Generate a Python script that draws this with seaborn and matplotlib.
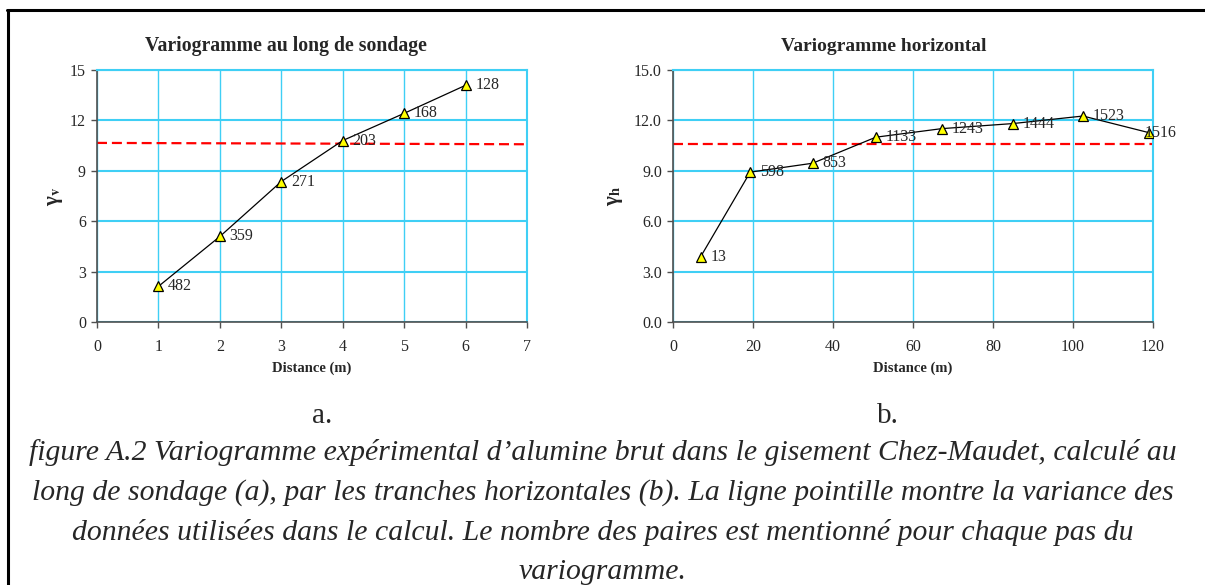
import numpy as np
import pandas as pd
import matplotlib
matplotlib.use("Agg")
import matplotlib.pyplot as plt
from matplotlib.lines import Line2D
import seaborn as sns

# Variogramme au long de sondage (a)
dist_v = [1, 2, 3, 4, 5, 6]
gamma_v = [2.12, 5.09, 8.36, 10.8, 12.42, 14.09]
pairs_v = [482, 359, 271, 203, 168, 128]
variance_v = [10.66, 10.58]   # dashed line, start / end
xlim_v = [0, 7]
yticks_v = [0, 3, 6, 9, 12, 15]

# Variogramme horizontal (b)
dist_h = [6.9, 19.3, 34.9, 50.7, 67.2, 84.9, 102.5, 119.0]
gamma_h = [3.88, 8.92, 9.45, 11.0, 11.51, 11.81, 12.26, 11.27]
pairs_h = [13, 598, 853, 1133, 1243, 1444, 1523, 1516]
variance_h = [10.6, 10.6]
xlim_h = [0, 120]
yticks_h = [0.0, 3.0, 6.0, 9.0, 12.0, 15.0]

caption = ("figure A.2 Variogramme expérimental d\u2019alumine brut dans le gisement Chez-Maudet, calculé au\n"
           "long de sondage (a), par les tranches horizontales (b). La ligne pointille montre la variance des\n"
           "données utilisées dans le calcul. Le nombre des paires est mentionné pour chaque pas du\n"
           "variogramme.")

sns.set_style("white")
plt.rcParams['font.family'] = ['Liberation Serif', 'DejaVu Serif']
plt.rcParams['mathtext.fontset'] = 'stix'

W, H = 1205, 585
fig = plt.figure(figsize=(W / 100, H / 100), dpi=100)

GRID = '#3fcff5'
SPINE = '#505050'


def px(x0, y0, w, h):
    return [x0 / W, 1 - (y0 + h) / H, w / W, h / H]


def draw(ax, x, y, pairs, var, xlim, yticks, fmt, title, title_fs, ylab, last_shift):
    df = pd.DataFrame({'d': x, 'g': y})
    ax.plot(xlim, var, color='red', lw=1.6, ls=(0, (4.5, 2.2)), zorder=2)
    sns.lineplot(data=df, x='d', y='g', ax=ax, color='black', lw=0.9,
                 marker='^', markersize=7, markerfacecolor='#ffff00',
                 markeredgecolor='black', markeredgewidth=0.9, zorder=4)
    for i, (xi, yi, n) in enumerate(zip(x, y, pairs)):
        dx = last_shift if i == len(x) - 1 else 7
        ax.annotate(str(n), (xi, yi), xytext=(dx, 0), textcoords='offset points',
                    va='center', ha='left', fontsize=11.5, zorder=5)
    ax.set_xlim(xlim)
    ax.set_ylim(yticks[0], yticks[-1])
    ax.set_yticks(yticks)
    ax.set_yticklabels([fmt.format(t) for t in yticks])
    ax.grid(True, axis='x', color=GRID, lw=1.0)
    ax.grid(True, axis='y', color=GRID, lw=1.5)
    ax.set_axisbelow(True)
    for s in ['top', 'right']:
        ax.spines[s].set_color(GRID)
        ax.spines[s].set_linewidth(1.5)
    for s in ['left', 'bottom']:
        ax.spines[s].set_color(SPINE)
        ax.spines[s].set_linewidth(1.2)
    ax.tick_params(axis='both', direction='out', length=4, width=1, color=SPINE,
                   labelsize=11.5, left=True, bottom=True)
    ax.tick_params(axis='x', pad=8)
    ax.tick_params(axis='y', pad=4)
    ax.set_xlabel('Distance (m)', fontsize=10.5, fontweight='bold', labelpad=5)
    ax.set_ylabel(ylab, fontsize=15, fontweight='bold')
    ax.text(0.44, 1.095, title, transform=ax.transAxes, ha='center', va='center',
            fontsize=title_fs, fontweight='bold')


ax1 = fig.add_axes(px(97, 70, 430, 252))
draw(ax1, dist_v, gamma_v, pairs_v, variance_v, xlim_v, yticks_v, '{:.0f}',
     'Variogramme au long de sondage', 14.2, 'γ$_{\\mathbf{v}}$', 7)
ax1.yaxis.set_label_coords(-0.074, 0.5)

ax2 = fig.add_axes(px(673, 70, 480, 252))
ax2.set_xticks([0, 20, 40, 60, 80, 100, 120])
draw(ax2, dist_h, gamma_h, pairs_h, variance_h, xlim_h, yticks_h, '{:.1f}',
     'Variogramme horizontal', 14, 'γ$_{\\mathbf{h}}$', -3)
ax2.yaxis.set_label_coords(-0.1, 0.5)

# panel letters and caption
fig.text(322 / W, 1 - 416 / H, 'a.', ha='center', va='center', fontsize=21)
fig.text(888 / W, 1 - 416 / H, 'b.', ha='center', va='center', fontsize=21)
fig.text(0.5, 1 - 512 / H, caption, ha='center', va='center', fontsize=21.4,
         style='italic', linespacing=1.62)

# frame lines (top and left)
fig.add_artist(Line2D([7 / W, 1], [1 - 10 / H] * 2, transform=fig.transFigure,
                      color='black', lw=2.2))
fig.add_artist(Line2D([8 / W] * 2, [0, 1 - 10 / H], transform=fig.transFigure,
                      color='black', lw=2.2))

fig.savefig('out.png', dpi=100)
